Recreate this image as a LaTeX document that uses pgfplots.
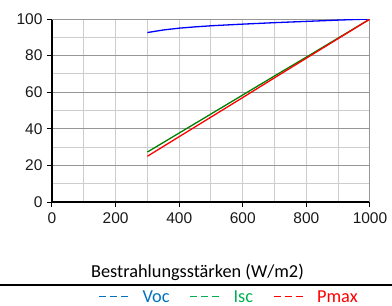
\documentclass[border=0pt]{standalone}
\usepackage{pgfplots}
\pgfplotsset{compat=1.18}
\usepackage{fontspec}
\setmainfont{Liberation Sans}
\newfontfamily\calib{Carlito}
\definecolor{vocc}{RGB}{0,112,192}
\definecolor{iscc}{RGB}{0,176,80}
\definecolor{pmaxc}{RGB}{255,0,0}
\definecolor{majg}{RGB}{150,150,150}
\definecolor{ming}{RGB}{205,205,205}
\begin{document}
\begin{tikzpicture}[x=1pt,y=1pt]
\path[use as bounding box] (0,0) rectangle (392,306);
\begin{axis}[
  at={(52pt,104pt)}, anchor=south west,
  width=318pt, height=183pt, scale only axis,
  xmin=0, xmax=1000, ymin=0, ymax=100,
  enlargelimits=false,
  axis x line*=bottom, axis y line*=left,
  axis line style={black, line width=1.2pt},
  xtick={0,200,...,1000}, minor xtick={100,300,...,900},
  ytick={0,20,...,100}, minor ytick={10,30,...,90},
  grid=both,
  major x grid style={ming, line width=1pt},
  minor x grid style={ming, line width=1pt},
  major y grid style={majg, line width=1pt},
  minor y grid style={ming, line width=1pt},
  tick align=outside, major tick length=5pt, minor tick length=0pt,
  tick style={black, line width=1pt},
  /pgf/number format/assume math mode=true,
  /pgf/number format/1000 sep={},
  ticklabel style={font=\fontsize{15.5}{17}\selectfont, text=black!90},
  yticklabel style={xshift=-1pt},
  xticklabel style={yshift=-2pt},
  xlabel={Bestrahlungsstärken (W/m2)},
  xlabel style={font=\calib\fontsize{18.3}{20}\selectfont, at={(axis description cs:0.4575,-0.3825)}, anchor=center},
  legend columns=3,
  legend style={draw=none, fill=none, at={(axis description cs:0.557,-0.519)}, anchor=center,
    font=\calib\fontsize{18.3}{20}\selectfont,
    /tikz/every odd column/.append style={column sep=12pt},
    /tikz/every even column/.append style={column sep=18pt}},
  legend image code/.code={\draw[dash pattern=on 7pt off 4pt, line width=1pt] (0pt,0pt) -- (29pt,0pt);},
]
\draw[majg, line width=1.2pt] (axis cs:0,100) -- (axis cs:1000,100) -- (axis cs:1000,0);
\addplot[blue, line width=1.3pt, forget plot] coordinates {
 (300,92.6) (350,94.0) (400,95.0) (450,95.7) (500,96.3) (600,97.2) (700,98.0) (800,98.7) (900,99.4) (1000,100)};
\addplot[green!50!black, line width=1.3pt, forget plot] coordinates {
 (300,27.3) (400,37.7) (500,48.1) (600,58.5) (700,68.9) (800,79.2) (900,89.6) (1000,100)};
\addplot[pmaxc, line width=1.3pt, forget plot] coordinates {
 (300,25.0) (400,35.7) (500,46.4) (600,57.1) (700,67.9) (800,78.6) (900,89.3) (1000,100)};
\addlegendimage{vocc}
\addlegendentry{\textcolor{vocc}{Voc}}
\addlegendimage{iscc}
\addlegendentry{\textcolor{iscc}{Isc}}
\addlegendimage{pmaxc}
\addlegendentry{\textcolor{pmaxc}{Pmax}}
\end{axis}
\draw[black, line width=1.5pt] (0,21) -- (392,21);
\end{tikzpicture}
\end{document}
